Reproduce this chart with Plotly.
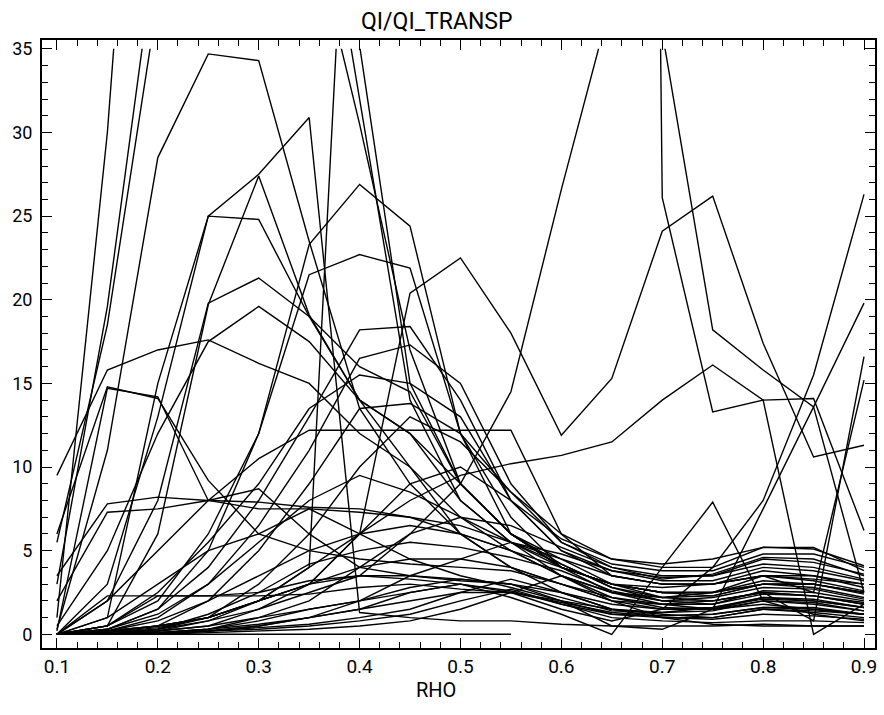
import plotly.graph_objects as go

RHO = [0.10, 0.15, 0.20, 0.25, 0.30, 0.35, 0.40, 0.45, 0.50, 0.55, 0.60, 0.65, 0.70, 0.75, 0.80, 0.85, 0.90]

# QI / QI_TRANSP profiles (one list per run, values at each RHO); large values run off the top
QI_RUNS = [
    [1.0, 30, 70, 80, 70, 43, 30.5, 17, 9, 6, 4, 2.5, 1.8, 1.5, 2.0, 1.8, 1.4],
    [3.0, 19.6, 42, 70, 60, 50, 32, 14, 8, 5.5, 3.5, 2.2, 1.6, 1.5, 2.2, 2.0, 1.6],
    [5.5, 18.5, 38, 60, 55, 52, 35.2, 15, 9, 6, 4.2, 2.8, 2.0, 1.8, 2.6, 2.5, 2.0],
    [0, 0.2, 0.5, 1.0, 2.0, 4.0, 62, 80, 90, 120, 200, 300, 26.1, 13.3, 14.0, 0.0, 1.8],
    [0.3, 11, 28.5, 34.7, 34.3, 23.5, 13.5, 9, 6, 4, 3, 2, 1.5, 1.5, 1.8, 1.5, 1.2],
    [0, 0, 0.3, 0.8, 1.5, 2.5, 3.5, 6, 9, 14.5, 26.6, 38, 36, 18.2, 15.8, 13.6, 2.5],
    [0, 3, 13, 25, 27.5, 30.9, 1.3, 1, 0.8, 0.8, 0.6, 0.5, 0.5, 0.5, 0.6, 0.5, 0.5],
    [0, 1, 15, 25, 24.8, 19, 14, 10, 6, 4, 2.5, 1.5, 1.2, 1, 1.5, 1.3, 1.0],
    [0, 0.5, 6, 19.7, 27.4, 19.1, 14, 12, 9, 6, 4, 3, 2.5, 2.5, 3, 3, 2.5],
    [0, 2, 8, 19.8, 21.3, 19, 16, 14.5, 9, 6, 4, 3, 2.5, 2.3, 3, 2.8, 2.2],
    [0.5, 5, 12, 17.5, 19.6, 17.5, 14, 12, 8, 5.5, 4, 3, 2.8, 3, 3.5, 3.2, 2.6],
    [0, 0.5, 2, 6, 12, 23.3, 26.9, 24.4, 12, 6, 4.5, 3, 2.2, 2, 2.5, 2.3, 1.8],
    [0, 0.3, 1.5, 5, 12, 21.5, 22.7, 21.9, 12, 7, 4, 3, 2.5, 2.5, 3.2, 3, 2.5],
    [0, 0.2, 0.5, 1, 2, 3, 6, 20.4, 22.5, 18, 11.9, 15.3, 24.1, 26.2, 17.4, 10.6, 11.3],
    [0, 2, 5, 8, 10.5, 12.2, 12.2, 12.2, 12.2, 12.2, 6, 3.5, 3, 3, 3.5, 3.3, 3],
    [0, 0, 0.2, 0.8, 2, 4, 6, 8, 9.5, 10.2, 10.7, 11.5, 14, 16.1, 14, 14.1, 6.2],
    [0, 0, 0, 0.2, 0.5, 1, 1.5, 2.5, 3, 2.5, 1.5, 0.8, 1.5, 4, 8, 15.5, 26.3],
    [0, 0, 0.1, 0.3, 0.6, 1, 1.5, 2, 2.5, 2.5, 2, 0.5, 0.3, 1.5, 7.5, 13.6, 19.8],
    [0, 0, 0.1, 0.3, 0.8, 1.5, 2, 2.5, 3, 2.2, 1.2, 0, 4, 7.9, 2, 1.2, 0.8],
    [0, 0.1, 0.4, 1, 2, 3, 4, 4.5, 4.5, 4, 3, 2, 1.8, 2, 2.5, 0.8, 16.6],
    [0, 0.2, 0.8, 2, 3.5, 5, 6, 6.5, 6, 5, 3.5, 2.5, 2.2, 2.5, 3.5, 2.5, 15.2],
    [9.5, 15.8, 17, 17.6, 16.2, 15, 12, 10, 7, 5, 3.5, 2.5, 2, 2, 2.5, 2.3, 1.8],
    [0.2, 14.7, 14.2, 8, 7.5, 7.5, 7.3, 7, 6.5, 5.5, 4.5, 3.5, 3, 3, 3.5, 3.5, 2.8],
    [6, 14.8, 14.1, 9.2, 6, 5, 4.5, 4.2, 4, 3.8, 3, 2.2, 1.8, 1.8, 2.4, 2.3, 1.9],
    [3.5, 7.8, 8.2, 8, 7.9, 7.6, 7.5, 7, 6, 5, 4, 3, 2.5, 2.5, 3, 3, 2.5],
    [2, 7.3, 7.5, 8, 8.7, 6, 4, 3.5, 3.3, 3, 2.5, 1.8, 1.5, 1.6, 2.1, 2.0, 1.6],
    [0, 2.3, 2.3, 2.3, 2.3, 2.4, 2.8, 3, 2.7, 2.5, 1.9, 1.3, 1.1, 1.2, 1.6, 1.5, 1.2],
    [0, 0.3, 1.5, 4, 8, 13, 18.2, 18.4, 14, 8, 5, 3.5, 3, 3, 3.8, 3.5, 3],
    [0, 0.2, 1, 3, 6.5, 11, 16.5, 17.3, 15, 9, 5.5, 4, 3.5, 3.5, 4.5, 4.3, 3.6],
    [0, 0.5, 2.5, 5.5, 9, 13.5, 15.5, 15, 13, 8, 5, 3.8, 3.2, 3.2, 4, 3.8, 3.2],
    [0, 0.1, 0.5, 2, 5, 9, 13.5, 13.8, 12, 8.5, 5.5, 4.2, 3.8, 3.8, 4.8, 4.8, 4.0],
    [0, 0.1, 0.3, 1, 3, 6, 10, 13, 11.5, 8.5, 6, 4.5, 4, 4, 5.2, 5.1, 4.1],
    [0, 0, 0.2, 0.5, 1.5, 3, 6, 9, 10, 8, 5.7, 4.5, 4.2, 4.5, 5.2, 5.2, 3.8],
    [0, 0, 0.1, 0.3, 1, 2, 4, 6, 7, 6.5, 5.2, 4, 3.3, 3.6, 4.6, 4.5, 3.5],
    [0, 0, 0, 0.2, 0.5, 1, 2, 3.5, 4.5, 5.5, 4.2, 2.8, 2.2, 2.3, 3, 3, 2.4],
    [0, 0, 0, 0, 0, 0, 0, 0, 0, 0, None, None, None, None, None, None, None],
    [0, 0, 0.1, 0.2, 0.4, 0.6, 1, 1.5, 2.5, 3.3, 2.5, 1.5, 1, 0.9, 1.2, 1.1, 0.9],
    [0, 0.2, 0.5, 1, 2, 3, 3.5, 3.5, 3.2, 3, 2, 1.2, 1, 1, 1.5, 1.4, 1.2],
    [0, 0, 0.2, 0.5, 1, 1.5, 2, 2.8, 3.3, 3, 2.2, 1.4, 1.3, 1.6, 2.2, 2.1, 1.6],
    [0, 0, 0, 0.2, 0.3, 0.5, 0.8, 1.2, 2.0, 2.7, 1.8, 1.0, 0.8, 0.7, 0.8, 0.8, 0.7],
    [0, 1, 3, 5, 6, 7.5, 6, 4.5, 3.5, 2.8, 2, 1.5, 1.3, 1.4, 2, 1.9, 1.4],
    [0, 0.5, 2.3, 2.3, 2.5, 3.2, 3.5, 3.3, 3, 2.6, 1.8, 1.2, 1.1, 1.2, 1.6, 1.6, 1.2],
    [0, 0, 0, 0.1, 0.2, 0.3, 0.5, 0.8, 1.5, 2.5, 3.5, 2.0, 1.0, 0.6, 0.5, 0.5, 0.5],
    [0, 0.3, 1.2, 3, 5.5, 8, 9.5, 8.5, 7, 5.5, 4.8, 3.8, 3.4, 3.5, 4.2, 4.0, 3.3],
    [0, 0, 0.3, 1.2, 2.5, 4.2, 5, 5.5, 5.2, 4.6, 3.8, 2.6, 2.0, 2.2, 2.8, 2.7, 2.1],
]

X_TICKS = [0.1, 0.2, 0.3, 0.4, 0.5, 0.6, 0.7, 0.8, 0.9]
X_TICK_TEXT = ["0.1", "0.2", "0.3", "0.4", "0.5", "0.6", "0.7", "0.8", "0.9"]
Y_TICKS = [0, 5, 10, 15, 20, 25, 30, 35]
Y_TICK_TEXT = ["0", "5", "10", "15", "20", "25", "30", "35"]

W, H = 884, 715
FONT = "Liberation Sans Narrow, Roboto, Liberation Sans, sans-serif"

fig = go.Figure()
for run in QI_RUNS:
    fig.add_trace(go.Scatter(x=RHO, y=run, mode="lines", xaxis="x", yaxis="y",
                             line=dict(color="black", width=1.4),
                             showlegend=False, hoverinfo="skip", connectgaps=False))
# empty trace so the frame subplot exists
fig.add_trace(go.Scatter(x=[None], y=[None], xaxis="x2", yaxis="y2", showlegend=False))

x_dom = [42 / W, 877 / W]
y_dom_bottom = 1 - 648 / H
x_range = [0.0851, 0.9109]
y_low = -0.83

fig.update_layout(
    width=W, height=H,
    margin=dict(l=0, r=0, t=0, b=0),
    paper_bgcolor="white", plot_bgcolor="rgba(0,0,0,0)",
    xaxis=dict(domain=x_dom, range=x_range, visible=False, anchor="y"),
    yaxis=dict(domain=[y_dom_bottom, 1 - 47 / H], range=[y_low, 35], visible=False, anchor="x"),
    xaxis2=dict(domain=x_dom, range=x_range, anchor="y2",
                showline=True, linecolor="black", linewidth=1.8, mirror="allticks",
                ticks="inside", ticklen=10, tickwidth=1.3, tickcolor="black",
                tickvals=X_TICKS, ticktext=X_TICK_TEXT, showgrid=False, zeroline=False,
                tickfont=dict(family=FONT, size=19, color="black"), ticklabelstandoff=0,
                minor=dict(dtick=0.02, tick0=0.1, ticks="inside", ticklen=6, tickwidth=1.1, tickcolor="black", showgrid=False)),
    yaxis2=dict(domain=[y_dom_bottom, 1 - 38 / H], range=[y_low, 35.54], anchor="x2",
                showline=True, linecolor="black", linewidth=1.8, mirror="allticks",
                ticks="inside", ticklen=10, tickwidth=1.3, tickcolor="black",
                tickvals=Y_TICKS, ticktext=Y_TICK_TEXT, showgrid=False, zeroline=False,
                tickfont=dict(family=FONT, size=18, color="black"), ticklabelstandoff=4,
                minor=dict(dtick=1, tick0=0, ticks="inside", ticklen=6, tickwidth=1.1, tickcolor="black", showgrid=False)),
    annotations=[
        dict(text="QI/QI_TRANSP", xref="paper", yref="paper", x=438 / W, y=1 - 20 / H,
             showarrow=False, xanchor="center", yanchor="middle",
             font=dict(family=FONT, size=23, color="black")),
        dict(text="RHO", xref="paper", yref="paper", x=437 / W, y=1 - 690 / H,
             showarrow=False, xanchor="center", yanchor="middle",
             font=dict(family=FONT, size=20, color="black")),
    ],
)

fig.write_html("out.html")
